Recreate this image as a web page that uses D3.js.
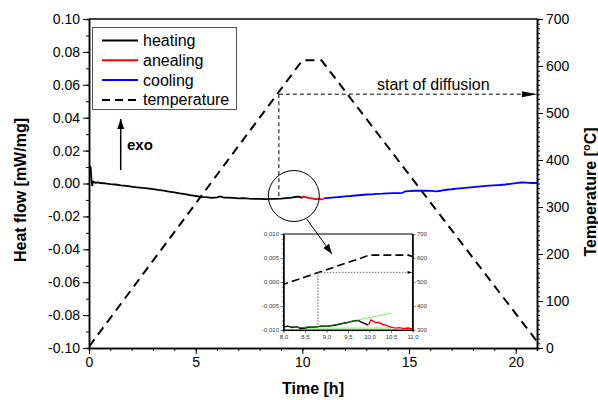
<!DOCTYPE html>
<html>
<head>
<meta charset="utf-8">
<script src="https://cdn.jsdelivr.net/npm/d3@7/dist/d3.min.js"></script>
<style>
  html, body { margin: 0; padding: 0; background: #fff; }
  svg { display: block; font-family: "Liberation Sans", Arial, sans-serif; }
</style>
</head>
<body>
<svg id="chart" width="598" height="400"></svg>
<script>
// ---- data ----------------------------------------------------------------
// Heat flow during heating [time h, mW/mg]
const heating = [
  [0, 0.0100], [0.04, 0.0104], [0.08, 0.0098], [0.11, 0.0030], [0.15, -0.0012],
  [0.2, 0.0012], [0.3, 0.0004], [0.4, 0.0007], [0.5, 0.0003], [0.75, 0.0001],
  [1.0, -0.0004], [1.25, -0.0006], [1.5, -0.0011], [1.75, -0.0014], [2.0, -0.0019],
  [2.25, -0.0023], [2.5, -0.0027], [2.75, -0.0030], [3.0, -0.0034], [3.25, -0.0039],
  [3.5, -0.0043], [3.75, -0.0049], [4.0, -0.0054], [4.25, -0.0060], [4.5, -0.0064],
  [4.75, -0.0071], [5.0, -0.0076], [5.25, -0.0082], [5.5, -0.0083], [5.75, -0.0087],
  [6.0, -0.0084], [6.15, -0.0079], [6.3, -0.0085], [6.5, -0.0086], [6.75, -0.0088],
  [7.0, -0.0090], [7.25, -0.0089], [7.5, -0.0092], [7.75, -0.0093], [8.0, -0.0093],
  [8.25, -0.0095], [8.5, -0.0094], [8.75, -0.0093], [9.0, -0.0092], [9.25, -0.0089],
  [9.5, -0.0086], [9.65, -0.0082], [9.8, -0.0080], [9.9, -0.0083], [10.0, -0.0087]
];
// Heat flow during the isothermal hold
const annealing = [
  [10.0, -0.0087], [10.04, -0.0079], [10.1, -0.0082], [10.2, -0.0085], [10.3, -0.0088],
  [10.45, -0.0091], [10.6, -0.0095], [10.75, -0.0094], [10.9, -0.0096], [11.0, -0.0095]
];
// Heat flow during cooling
const cooling = [
  [11.0, -0.0090], [11.25, -0.0087], [11.5, -0.0084], [11.75, -0.0082], [12.0, -0.0078],
  [12.25, -0.0076], [12.5, -0.0073], [12.75, -0.0070], [13.0, -0.0067], [13.25, -0.0066],
  [13.5, -0.0063], [13.75, -0.0062], [14.0, -0.0060], [14.25, -0.0059], [14.5, -0.0058],
  [14.7, -0.0057], [14.8, -0.0048], [15.0, -0.0046], [15.25, -0.0044], [15.5, -0.0043],
  [15.75, -0.0044], [16.0, -0.0045], [16.3, -0.0048], [16.5, -0.0044], [16.75, -0.0038],
  [17.0, -0.0035], [17.25, -0.0031], [17.5, -0.0028], [17.75, -0.0025], [18.0, -0.0022],
  [18.25, -0.0019], [18.5, -0.0016], [18.75, -0.0013], [19.0, -0.0011], [19.25, -0.0009],
  [19.5, -0.0006], [19.75, -0.0002], [20.0, 0.0002], [20.25, 0.0006], [20.5, 0.0005],
  [20.75, 0.0003], [21.0, 0.0003]
];
// Furnace temperature programme [time h, °C]
const temperature = [[0, 3], [10.0, 612], [10.9, 612], [21, 14]];

// Start of diffusion marker [time h, °C] and heat flow where it meets the curve
const diffusionStart = { time: 8.9, temp: 540, flow: -0.0093 };

// Detail window 8–11 h
const insetHeating = [
  [8.0, -0.0094], [8.1, -0.0092], [8.2, -0.0095], [8.3, -0.0093], [8.4, -0.0097],
  [8.5, -0.0096], [8.6, -0.0094], [8.7, -0.0094], [8.8, -0.0093], [8.9, -0.0092],
  [9.0, -0.0092], [9.1, -0.0091], [9.2, -0.0090], [9.3, -0.0088], [9.4, -0.0086],
  [9.5, -0.0084], [9.6, -0.0082], [9.7, -0.0080], [9.75, -0.0081], [9.8, -0.0083],
  [9.9, -0.0087], [9.97, -0.0090]
];
const insetFit = [
  [8.15, -0.0093], [8.3, -0.0094], [8.45, -0.0095], [8.6, -0.0093], [8.75, -0.0094],
  [8.9, -0.0091], [9.05, -0.0092], [9.2, -0.0089], [9.35, -0.0087], [9.5, -0.0085],
  [9.6, -0.0081], [9.7, -0.0081], [9.78, -0.0080]
];
const insetAnnealing = [
  [9.98, -0.0089], [10.03, -0.0079], [10.08, -0.0081], [10.15, -0.0085], [10.2, -0.0084],
  [10.3, -0.0088], [10.4, -0.0091], [10.5, -0.0094], [10.6, -0.0096], [10.7, -0.0095],
  [10.8, -0.0097], [10.9, -0.0096], [11.0, -0.0098]
];
const insetTangent = [[9.1, -0.0091], [10.5, -0.0065]];
const insetBaseline = [[8.5, -0.0096], [10.5, -0.0096]];
const insetDiffusion = { time: 8.8, temp: 540, flow: -0.0095 };

// Tick values
const flowTicks = [-0.10, -0.08, -0.06, -0.04, -0.02, 0.00, 0.02, 0.04, 0.06, 0.08, 0.10];
const timeTicks = [0, 5, 10, 15, 20];
const tempTicks = [0, 100, 200, 300, 400, 500, 600, 700];
const insetTimeTicks = [8.0, 8.5, 9.0, 9.5, 10.0, 10.5, 11.0];
const insetFlowTicks = [-0.010, -0.005, 0.000, 0.005, 0.010];
const insetTempTicks = [300, 400, 500, 600, 700];

const legendItems = [
  { label: "heating", color: "#000", dash: null },
  { label: "anealing", color: "#ff0000", dash: null },
  { label: "cooling", color: "#0000ff", dash: null },
  { label: "temperature", color: "#000", dash: "8,5" }
];

// ---- layout ----------------------------------------------------------------
const svg = d3.select("#chart");
const L = 89, R = 537, T = 19, B = 348;

const x = d3.scaleLinear([0, 21], [L, R]);
const yF = d3.scaleLinear([-0.10, 0.10], [B, T]);
const yT = d3.scaleLinear([0, 700], [B, T]);

const dot = d3.formatLocale({ decimal: ".", thousands: ",", grouping: [3], currency: ["", ""], minus: "-" });
const comma = d3.formatLocale({ decimal: ",", thousands: ".", grouping: [3], currency: ["", ""], minus: "-" });

svg.append("defs").append("clipPath").attr("id", "plotClip")
  .append("rect").attr("x", L).attr("y", T).attr("width", R - L).attr("height", B - T);

svg.select("defs").append("marker")
  .attr("id", "arrowHead").attr("viewBox", "0 0 10 10").attr("refX", 10).attr("refY", 5)
  .attr("markerWidth", 10).attr("markerHeight", 10).attr("markerUnits", "userSpaceOnUse")
  .attr("orient", "auto")
  .append("path").attr("d", "M0,1.5 L10,5 L0,8.5 Z").attr("fill", "#000");

// ---- axes ------------------------------------------------------------------
function styleAxis(g, w) {
  g.select(".domain").attr("stroke", "#000").attr("stroke-width", w);
  g.selectAll(".tick line").attr("stroke", "#000").attr("stroke-width", 1);
}

// minor ticks
svg.append("g").attr("transform", `translate(${L},0)`)
  .call(d3.axisLeft(yF).tickValues(d3.range(-0.10, 0.1001, 0.01)).tickSize(3).tickFormat(""))
  .call(g => styleAxis(g, 1.5));
svg.append("g").attr("transform", `translate(0,${B})`)
  .call(d3.axisBottom(x).tickValues(d3.range(0, 21.01, 1)).tickSize(3).tickFormat(""))
  .call(g => styleAxis(g, 1.5));
svg.append("g").attr("transform", `translate(${R},0)`)
  .call(d3.axisRight(yT).tickValues(d3.range(0, 701, 10)).tickSize(3).tickFormat(""))
  .call(g => styleAxis(g, 1.5));

// major ticks
const axisFont = g => g.selectAll("text").attr("font-size", 14).attr("fill", "#000")
  .attr("font-family", "'Liberation Sans', Arial, sans-serif");

svg.append("g").attr("transform", `translate(${L},0)`)
  .call(d3.axisLeft(yF).tickValues(flowTicks).tickSize(6).tickSizeOuter(0).tickPadding(3)
    .tickFormat(dot.format(".2f")))
  .call(g => styleAxis(g, 1.5)).call(axisFont);
svg.append("g").attr("transform", `translate(0,${B})`)
  .call(d3.axisBottom(x).tickValues(timeTicks).tickSize(6).tickSizeOuter(0).tickPadding(3))
  .call(g => styleAxis(g, 1.5)).call(axisFont);
svg.append("g").attr("transform", `translate(${R},0)`)
  .call(d3.axisRight(yT).tickValues(tempTicks).tickSize(6).tickSizeOuter(0).tickPadding(3))
  .call(g => styleAxis(g, 1.5)).call(axisFont);

// top frame
svg.append("line").attr("x1", L).attr("x2", R).attr("y1", T).attr("y2", T)
  .attr("stroke", "#000").attr("stroke-width", 1.5);

// axis titles
svg.append("text").attr("transform", `translate(26,190) rotate(-90)`)
  .attr("text-anchor", "middle").attr("font-size", 16).attr("font-weight", "bold")
  .text("Heat flow [mW/mg]");
svg.append("text").attr("x", (L + R) / 2).attr("y", 394)
  .attr("text-anchor", "middle").attr("font-size", 16).attr("font-weight", "bold")
  .text("Time [h]");
const tLabel = svg.append("text").attr("transform", `translate(596,192) rotate(-90)`)
  .attr("text-anchor", "middle").attr("font-size", 16).attr("font-weight", "bold");
tLabel.append("tspan").text("Temperature [");
tLabel.append("tspan").attr("font-size", 11).attr("dy", -6).text("o");
tLabel.append("tspan").attr("dy", 6).text("C]");

// ---- marks -----------------------------------------------------------------
const plot = svg.append("g").attr("clip-path", "url(#plotClip)");

const flowLine = d3.line().x(d => x(d[0])).y(d => yF(d[1]));
const tempLine = d3.line().x(d => x(d[0])).y(d => yT(d[1]));

plot.append("path").datum(temperature).attr("d", tempLine)
  .attr("fill", "none").attr("stroke", "#000").attr("stroke-width", 2).attr("stroke-dasharray", "9,6");

// start of diffusion guides
const dsx = x(diffusionStart.time), dsy = yT(diffusionStart.temp);
plot.append("line").attr("x1", dsx).attr("x2", dsx).attr("y1", dsy).attr("y2", yF(diffusionStart.flow))
  .attr("stroke", "#000").attr("stroke-width", 1).attr("stroke-dasharray", "4,3");
svg.append("line").attr("x1", dsx).attr("x2", R).attr("y1", dsy).attr("y2", dsy)
  .attr("stroke", "#000").attr("stroke-width", 1).attr("stroke-dasharray", "4,3");
svg.append("path")
  .attr("d", `M${R},${dsy} L${R - 15},${dsy - 3} L${R - 15},${dsy + 3} Z`).attr("fill", "#000");
svg.append("text").attr("x", 377).attr("y", 90).attr("font-size", 16).text("start of diffusion");

[[heating, "#000"], [annealing, "#ff0000"], [cooling, "#0000ff"]].forEach(([data, c]) => {
  plot.append("path").datum(data).attr("d", flowLine)
    .attr("fill", "none").attr("stroke", c).attr("stroke-width", 1.8).attr("stroke-linejoin", "round");
});

// exo arrow
svg.append("line").attr("x1", 120.7).attr("x2", 120.7).attr("y1", 170).attr("y2", 119)
  .attr("stroke", "#000").attr("stroke-width", 1.5).attr("marker-end", "url(#arrowHead)");
svg.append("text").attr("x", 127).attr("y", 150).attr("font-size", 15).attr("font-weight", "bold").text("exo");

// magnifier circle
const cx = x(9.6), cy = yF(-0.0076), cr = 25.5;
svg.append("circle").attr("cx", cx).attr("cy", cy).attr("r", cr)
  .attr("fill", "none").attr("stroke", "#000").attr("stroke-width", 1);

// ---- legend ----------------------------------------------------------------
const lg = svg.append("g");
lg.append("rect").attr("x", 92.5).attr("y", 27.5).attr("width", 144).attr("height", 82)
  .attr("fill", "#fff").attr("stroke", "#555").attr("stroke-width", 1);
legendItems.forEach((d, i) => {
  const yy = 40.5 + i * 19.8;
  lg.append("line").attr("x1", 102).attr("x2", 138).attr("y1", yy).attr("y2", yy)
    .attr("stroke", d.color).attr("stroke-width", 2).attr("stroke-dasharray", d.dash);
  lg.append("text").attr("x", 143).attr("y", yy + 5.5).attr("font-size", 16).text(d.label);
});

// ---- inset -----------------------------------------------------------------
const iL = 283.5, iR = 412.5, iT = 234, iB = 330;
const xi = d3.scaleLinear([8, 11], [iL, iR]);
const yiF = d3.scaleLinear([-0.010, 0.010], [iB, iT]);
const yiT = d3.scaleLinear([300, 700], [iB, iT]);

svg.select("defs").append("clipPath").attr("id", "insetClip")
  .append("rect").attr("x", iL).attr("y", iT - 1).attr("width", iR - iL).attr("height", iB - iT + 2);

const ig = svg.append("g");
ig.append("rect").attr("x", iL).attr("y", iT).attr("width", iR - iL).attr("height", iB - iT)
  .attr("fill", "#fff").attr("stroke", "#000").attr("stroke-width", 1);

const insetFont = g => g.selectAll("text").attr("font-size", 6).attr("fill", "#333")
  .attr("font-family", "'Liberation Sans', Arial, sans-serif");
const thin = g => { g.select(".domain").attr("stroke", "#000").attr("stroke-width", 1);
  g.selectAll(".tick line").attr("stroke", "#333").attr("stroke-width", 0.6); };

ig.append("g").attr("transform", `translate(${iL},0)`)
  .call(d3.axisLeft(yiF).tickValues(d3.range(-0.010, 0.0101, 0.001)).tickSize(1.5).tickFormat(""))
  .call(thin);
ig.append("g").attr("transform", `translate(${iR},0)`)
  .call(d3.axisRight(yiT).tickValues(d3.range(300, 701, 20)).tickSize(1.5).tickFormat(""))
  .call(thin);
ig.append("g").attr("transform", `translate(0,${iB})`)
  .call(d3.axisBottom(xi).tickValues(d3.range(8, 11.001, 0.1)).tickSize(1.5).tickFormat(""))
  .call(thin);
ig.append("g").attr("transform", `translate(${iL},0)`)
  .call(d3.axisLeft(yiF).tickValues(insetFlowTicks).tickSize(3).tickSizeOuter(0).tickPadding(1.5)
    .tickFormat(comma.format(".3f")))
  .call(thin).call(insetFont);
ig.append("g").attr("transform", `translate(${iR},0)`)
  .call(d3.axisRight(yiT).tickValues(insetTempTicks).tickSize(3).tickSizeOuter(0).tickPadding(1.5))
  .call(thin).call(insetFont);
ig.append("g").attr("transform", `translate(0,${iB})`)
  .call(d3.axisBottom(xi).tickValues(insetTimeTicks).tickSize(3).tickSizeOuter(0).tickPadding(2)
    .tickFormat(comma.format(".1f")))
  .call(thin).call(insetFont);

const ip = ig.append("g").attr("clip-path", "url(#insetClip)");
const iFlow = d3.line().x(d => xi(d[0])).y(d => yiF(d[1]));
const iTemp = d3.line().x(d => xi(d[0])).y(d => yiT(d[1]));

ip.append("path").datum(temperature).attr("d", iTemp)
  .attr("fill", "none").attr("stroke", "#000").attr("stroke-width", 1.6).attr("stroke-dasharray", "8,4");

const idx = xi(insetDiffusion.time), idy = yiT(insetDiffusion.temp);
ip.append("line").attr("x1", idx).attr("x2", idx).attr("y1", idy).attr("y2", yiF(insetDiffusion.flow))
  .attr("stroke", "#333").attr("stroke-width", 0.8).attr("stroke-dasharray", "1.5,1.5");
ip.append("line").attr("x1", idx).attr("x2", iR - 4).attr("y1", idy).attr("y2", idy)
  .attr("stroke", "#555").attr("stroke-width", 0.8).attr("stroke-dasharray", "1.5,1.5");
ig.append("path").attr("d", `M${iR},${idy} L${iR - 5},${idy - 1.3} L${iR - 5},${idy + 1.3} Z`).attr("fill", "#000");

ip.append("path").datum(insetBaseline).attr("d", iFlow)
  .attr("fill", "none").attr("stroke", "#7dea6a").attr("stroke-width", 1);
ip.append("path").datum(insetTangent).attr("d", iFlow)
  .attr("fill", "none").attr("stroke", "#7dea6a").attr("stroke-width", 1);
ip.append("path").datum(insetHeating).attr("d", iFlow)
  .attr("fill", "none").attr("stroke", "#000").attr("stroke-width", 1.4);
ip.append("path").datum(insetFit).attr("d", iFlow)
  .attr("fill", "none").attr("stroke", "#1a7a1a").attr("stroke-width", 1);
ip.append("path").datum(insetAnnealing).attr("d", iFlow)
  .attr("fill", "none").attr("stroke", "#ff0000").attr("stroke-width", 1.4);

// pointer from the magnifier circle into the detail window
svg.append("line").attr("x1", 306.7).attr("y1", 219).attr("x2", 332).attr("y2", 254)
  .attr("stroke", "#000").attr("stroke-width", 1).attr("marker-end", "url(#arrowHead)");
</script>
</body>
</html>
